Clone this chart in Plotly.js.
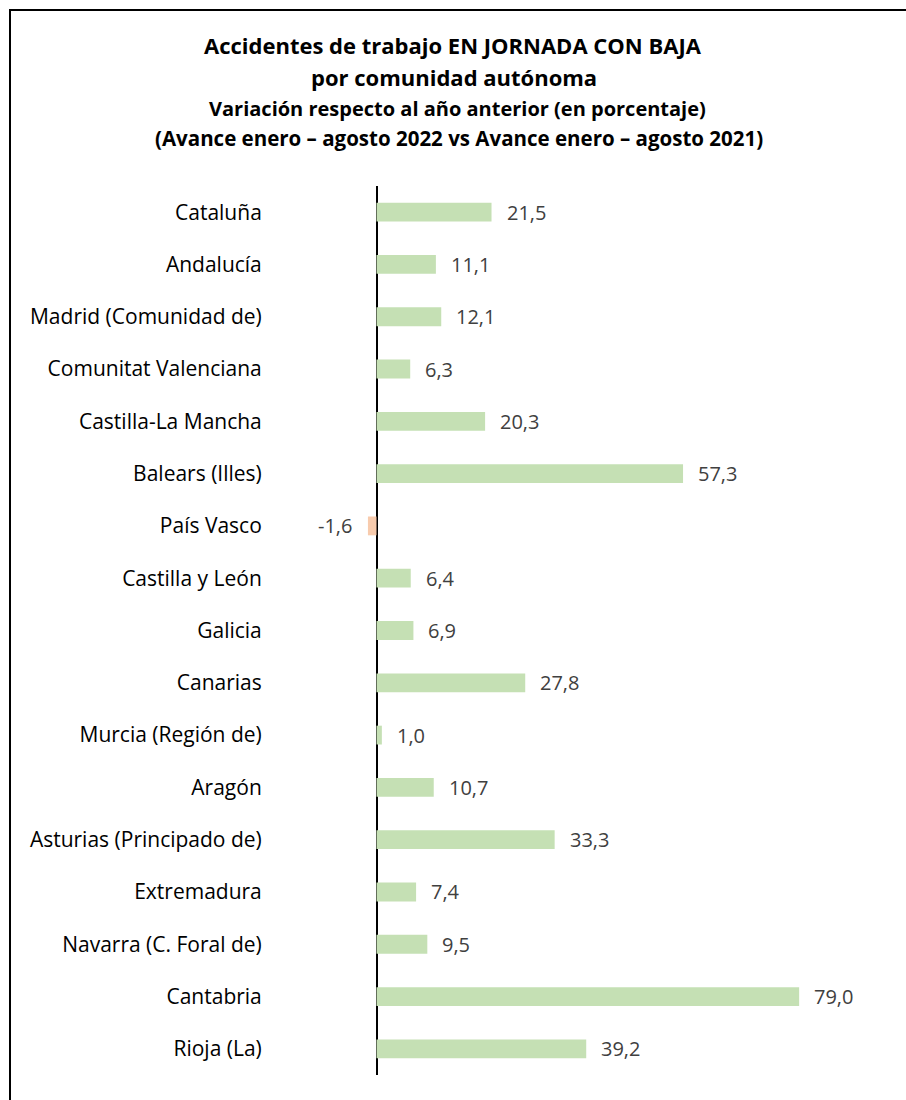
<!DOCTYPE html>
<html>
<head>
<meta charset="utf-8">
<script src="https://cdn.plot.ly/plotly-3.0.1.min.js"></script>
<style>
  html, body { margin:0; padding:0; background:#fff; }
  #chart { position:absolute; left:0; top:0; width:906px; height:1100px; }
  #frame { position:absolute; left:9px; top:9px; width:920px; height:1120px;
           border-left:2px solid #000; border-top:2px solid #000; pointer-events:none; }
</style>
</head>
<body>
<div id="chart"></div>
<div id="frame"></div>
<script>
const categories = [
  "Cataluña", "Andalucía", "Madrid (Comunidad de)", "Comunitat Valenciana",
  "Castilla-La Mancha", "Balears (Illes)", "País Vasco", "Castilla y León",
  "Galicia", "Canarias", "Murcia (Región de)", "Aragón",
  "Asturias (Principado de)", "Extremadura", "Navarra (C. Foral de)",
  "Cantabria", "Rioja (La)"
];
const values = [21.5, 11.1, 12.1, 6.3, 20.3, 57.3, -1.6, 6.4, 6.9, 27.8, 1.0, 10.7, 33.3, 7.4, 9.5, 79.0, 39.2];
const titleLines = [
  "Accidentes de trabajo EN JORNADA CON BAJA",
  "por comunidad autónoma",
  "Variación respecto al año anterior (en porcentaje)",
  "(Avance enero – agosto 2022 vs Avance enero – agosto 2021)"
];

const FONT = "'Open Sans', sans-serif";
const posColor = "#C5E0B4", negColor = "#F8CBAD";

const plotLeft = 323, plotRight = 858, plotTop = 186, plotBottom = 1075;
const W = 906, H = 1100;
const px2x = p => (p - plotLeft) / (plotRight - plotLeft);
const py2y = p => (plotBottom - p) / (plotBottom - plotTop);

const fmt = v => v.toFixed(1).replace('.', ',');

const annotations = values.map((v, i) => ({
  x: v, y: categories[i], xref: 'x', yref: 'y',
  text: fmt(v), showarrow: false,
  xanchor: v >= 0 ? 'left' : 'right',
  xshift: v >= 0 ? 13 : -14,
  font: { family: FONT, size: 20, color: '#404040' }
}));

const titleY = [45, 77, 109, 138];
const titleX = [453, 454, 457, 459];
const titleSizes = [22, 22, 20, 20.5];
titleLines.forEach((t, i) => {
  annotations.push({
    x: px2x(titleX[i]), y: py2y(titleY[i]), xref: 'paper', yref: 'paper',
    text: '<b>' + t + '</b>', showarrow: false, xanchor: 'center', yanchor: 'middle',
    font: { family: FONT, size: titleSizes[i], color: '#000' }
  });
});

const trace = {
  type: 'bar', orientation: 'h',
  x: values, y: categories,
  marker: { color: values.map(v => v >= 0 ? posColor : negColor) },
  hoverinfo: 'none'
};

const layout = {
  width: W, height: H,
  margin: { l: plotLeft, r: W - plotRight, t: plotTop, b: H - plotBottom, pad: 0 },
  paper_bgcolor: '#fff', plot_bgcolor: '#fff',
  bargap: 0.64,
  showlegend: false,
  xaxis: {
    range: [-10, 90], showgrid: false, showticklabels: false, ticks: '',
    showline: false, zeroline: true, zerolinecolor: '#000', zerolinewidth: 2,
    fixedrange: true
  },
  yaxis: {
    type: 'category', autorange: 'reversed', showgrid: false, showline: false,
    zeroline: false, ticks: 'outside', ticklen: 56, tickcolor: 'rgba(0,0,0,0)',
    tickfont: { family: FONT, size: 21, color: '#000' }, fixedrange: true
  },
  annotations: annotations
};

Plotly.newPlot('chart', [trace], layout, { displayModeBar: false, staticPlot: true });
</script>
</body>
</html>
